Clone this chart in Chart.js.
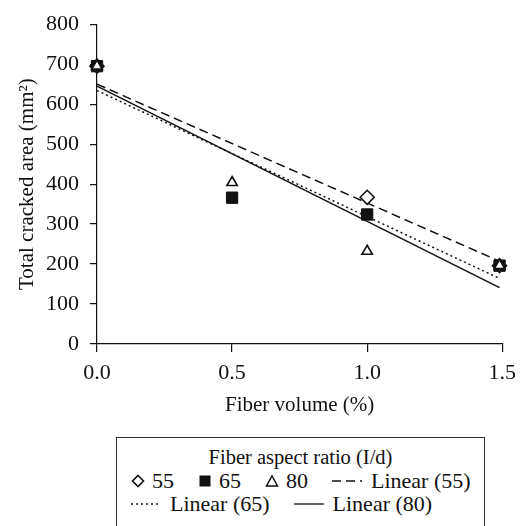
<!DOCTYPE html>
<html>
<head>
<meta charset="utf-8">
<script src="https://cdn.jsdelivr.net/npm/chart.js@4.4.0/dist/chart.umd.min.js"></script>
<style>
  body { margin: 0; background: #fff; }
  #wrap { position: relative; width: 524px; height: 526px; overflow: hidden; font-family: "Liberation Serif", "Times New Roman", serif; color: #111; }
  #box { position: absolute; left: 0; top: 0; width: 524px; height: 432px; }
  #legend { position: absolute; left: 116px; top: 437px; width: 369px; height: 110px; border: 1px solid #333; box-sizing: border-box; font-size: 22px; }
  #legend .ttl { text-align: center; font-size: 20.5px; line-height: 24px; margin-top: 7px; }
  #legend .row { display: flex; align-items: center; line-height: 23px; padding-left: 14px; white-space: nowrap; }
  #legend .item { display: flex; align-items: center; margin-right: 24px; }
  #legend svg { margin-right: 7px; }
  #legend svg.ln { margin-right: 9px; }
</style>
</head>
<body>
<div id="wrap">
  <div id="box"><canvas id="myChart"></canvas></div>
  <div id="legend">
    <div class="ttl" id="ttl"></div>
    <div class="row" id="row1"></div>
    <div class="row" id="row2"></div>
  </div>
</div>
<script>
const vol55 = [0, 1.0, 1.49];
const area55 = [695, 367, 196];
const vol65 = [0, 0.5, 1.0, 1.49];
const area65 = [695, 366, 324, 196];
const vol80 = [0, 0.5, 1.0, 1.49];
const area80 = [695, 404, 232, 196];

// trend lines (end points)
const fitVol = [0, 1.49];
const fit55 = [650, 207];
const fit65 = [634, 164];
const fit80 = [645, 141];

const legendTitle = 'Fiber aspect ratio (I/d)';
const labels = ['55', '65', '80', 'Linear (55)', 'Linear (65)', 'Linear (80)'];

const toPts = (xs, ys) => xs.map((x, i) => ({ x: x, y: ys[i] }));
const font = { family: '"Liberation Serif", "Times New Roman", serif', size: 21 };
const tickFont = { family: '"Liberation Serif", "Times New Roman", serif', size: 22 };

const datasets = [
    { label: labels[0], data: toPts(vol55, area55), pointStyle: 'rectRot', pointRadius: 7,
      backgroundColor: '#fff', borderColor: '#111', pointBorderWidth: 1.6, order: 3 },
    { label: labels[1], data: toPts(vol65, area65), pointStyle: 'rect', pointRadius: 8,
      backgroundColor: '#111', borderColor: '#111', pointBorderWidth: 1, order: 2 },
    { label: labels[2], data: toPts(vol80, area80), pointStyle: 'triangle', pointRadius: 6,
      backgroundColor: '#fff', borderColor: '#111', pointBorderWidth: 1.6, order: 1 },
    { label: labels[3], type: 'line', data: toPts(fitVol, fit55), borderColor: '#111', borderWidth: 1.5,
      borderDash: [9, 5], pointRadius: 0, fill: false, order: 10 },
    { label: labels[4], type: 'line', data: toPts(fitVol, fit65), borderColor: '#111', borderWidth: 1.5,
      borderDash: [2, 3], pointRadius: 0, fill: false, order: 10 },
    { label: labels[5], type: 'line', data: toPts(fitVol, fit80), borderColor: '#111', borderWidth: 1.5,
      pointRadius: 0, fill: false, order: 10 }
];
datasets.forEach(d => { d.clip = false; d.pointHoverRadius = d.pointRadius; });

const ctx = document.getElementById('myChart').getContext('2d');
const myChart = new Chart(ctx, {
    type: 'scatter',
    data: { datasets: datasets },
    options: {
        responsive: true,
        maintainAspectRatio: false,
        animation: false,
        events: [],
        layout: { padding: { top: 19.5, right: 20, left: 0, bottom: 0 } },
        plugins: { legend: { display: false }, tooltip: { enabled: false } },
        scales: {
            x: {
                type: 'linear', min: 0, max: 1.5,
                ticks: { stepSize: 0.5, color: '#111', font: tickFont, padding: 8,
                         callback: v => Number(v).toFixed(1) },
                grid: { drawOnChartArea: false, tickLength: 8, color: '#111', lineWidth: 1.2 },
                border: { color: '#111', width: 1.2 },
                title: { display: true, text: 'Fiber volume (%)', color: '#111', font: font,
                         padding: { top: 0, bottom: 14 } },
                afterFit: s => { s.height = 432 - 344; }
            },
            y: {
                min: 0, max: 800,
                ticks: { stepSize: 100, color: '#111', font: tickFont, padding: 11 },
                grid: { drawOnChartArea: false, tickLength: 7, color: '#111', lineWidth: 1.2 },
                border: { color: '#111', width: 1.2 },
                title: { display: true, text: 'Total cracked area (mm\u00b2)', color: '#111', font: font,
                         padding: { top: 15, bottom: 0 } },
                afterFit: s => { s.width = 97; }
            }
        }
    }
});

// html legend built from the datasets
function swatch(d) {
    if (d.type === 'line') {
        const dash = d.borderDash ? d.borderDash.join(',') : 'none';
        return '<svg class="ln" width="30" height="10"><line x1="0" y1="5" x2="30" y2="5" stroke="#111" stroke-width="1.3" stroke-dasharray="' + dash + '"/></svg>';
    }
    if (d.pointStyle === 'rectRot')
        return '<svg width="14" height="14"><polygon points="7,1.5 12.5,7 7,12.5 1.5,7" fill="#fff" stroke="#111" stroke-width="1.6"/></svg>';
    if (d.pointStyle === 'rect')
        return '<svg width="14" height="14"><rect x="1.5" y="1.5" width="11" height="11" fill="#111"/></svg>';
    return '<svg width="14" height="14"><polygon points="7,2 12.5,12 1.5,12" fill="#fff" stroke="#111" stroke-width="1.5"/></svg>';
}
document.getElementById('ttl').textContent = legendTitle;
const rows = [document.getElementById('row1'), document.getElementById('row2')];
datasets.forEach((d, i) => {
    const el = document.createElement('span');
    el.className = 'item';
    el.innerHTML = swatch(d) + '<span>' + d.label + '</span>';
    rows[i < 4 ? 0 : 1].appendChild(el);
});
</script>
</body>
</html>
